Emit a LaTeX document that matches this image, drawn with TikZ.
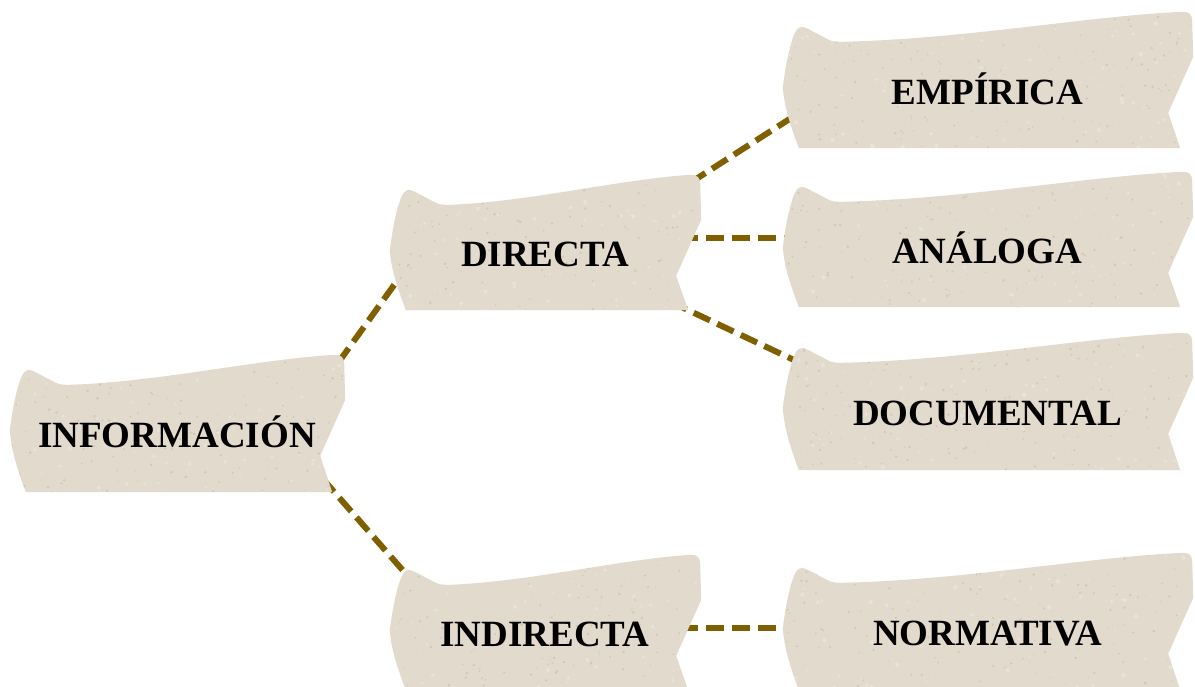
\documentclass[tikz,border=0pt]{standalone}
\usepackage{fontspec}
\setmainfont{Liberation Serif}
\usetikzlibrary{calc}
\pgfdeclarelayer{links}
\pgfdeclarelayer{paper}
\pgfsetlayers{links,paper,main}
\definecolor{parchment}{RGB}{226,218,204}
\definecolor{speckdark}{RGB}{188,176,158}
\definecolor{specklight}{RGB}{240,235,226}
\definecolor{linkbrown}{RGB}{127,95,0}
\tikzset{
  bannerbox/.style={rectangle, inner sep=0pt, text height=48.5pt, text depth=0pt,
    font=\bfseries\fontsize{37}{40}\selectfont, text=black},
  link/.style={draw=linkbrown, line width=6pt, dash pattern=on 18pt off 8pt},
}
% outline of a torn-paper banner around a named node
\newcommand\bannerpath[1]{($(#1.north west)+(0,76)$)
    .. controls ($(#1.north west)+(3,50)$) and ($(#1.north west)+(9,24)$) .. ($(#1.north west)+(14,18)$)
    .. controls ($(#1.north west)+(17,14)$) and ($(#1.north west)+(21,15)$) .. ($(#1.north west)+(25,17)$)
    -- ($(#1.north west)+(46,28)$)
    .. controls ($(#1.north west)+(50,30)$) and ($(#1.north west)+(54,30)$) .. ($(#1.north west)+(60,30)$)
    .. controls ($(#1.north west)!0.45!(#1.north east)+(0,27)$) and ($(#1.north west)!0.75!(#1.north east)+(0,4)$) .. ($(#1.north east)+(-9,0)$)
    .. controls ($(#1.north east)+(-3,0)$) and ($(#1.north east)+(0,3)$) .. ($(#1.north east)+(0,9)$)
    -- ($(#1.north east)+(1,45)$)
    -- ($(#1.north east)+(-24,101)$)
    -- ($(#1.south east)+(-12,0)$)
    -- ($(#1.south west)+(16,0)$)
    .. controls ($(#1.south west)+(8,-22)$) and ($(#1.north west)+(2,98)$) .. ($(#1.north west)+(0,76)$)
    -- cycle}
% paper fill with a faint mottled grain, behind the text
\newcommand\bannerpaper[1]{%
  \begin{pgfonlayer}{paper}
  \fill[parchment] \bannerpath{#1};
  \begin{scope}
    \clip \bannerpath{#1};
    \foreach \k in {1,...,170}{
      \fill[speckdark, opacity=0.45] ($(#1.south west)+({rnd*420},{-rnd*140})$) circle[radius={0.5+rnd*0.9}];
    }
    \foreach \k in {1,...,90}{
      \fill[specklight, opacity=0.5] ($(#1.south west)+({rnd*420},{-rnd*140})$) circle[radius={0.8+rnd*1.4}];
    }
  \end{scope}
  \end{pgfonlayer}}
\begin{document}
\begin{tikzpicture}[x=1pt,y=-1pt]
\pgfmathsetseed{11}
\useasboundingbox (0,0) rectangle (1195,687);

\node[bannerbox, minimum width=334pt, minimum height=137pt] (info) at (177,423.5) {INFORMACIÓN};
\node[bannerbox, minimum width=310pt, minimum height=135pt] (directa) at (545,242.5) {DIRECTA};
\node[bannerbox, minimum width=310pt, minimum height=135pt] (indirecta) at (545,622.5) {INDIRECTA};
\node[bannerbox, minimum width=409pt, minimum height=136pt] (empirica) at (987.5,80) {EMPÍRICA};
\node[bannerbox, minimum width=409pt, minimum height=135pt] (analoga) at (987.5,239.5) {ANÁLOGA};
\node[bannerbox, minimum width=409pt, minimum height=137pt] (documental) at (987.5,401.5) {DOCUMENTAL};
\node[bannerbox, minimum width=409pt, minimum height=137pt] (normativa) at (987.5,621.5) {NORMATIVA};

\bannerpaper{info}
\bannerpaper{directa}
\bannerpaper{indirecta}
\bannerpaper{empirica}
\bannerpaper{analoga}
\bannerpaper{documental}
\bannerpaper{normativa}

\begin{pgfonlayer}{links}
\draw[link] ($(info.north east)+(-6,8)$) -- ($(directa.west)+(14,29)$);
\draw[link] ($(info.south east)+(-22,-14)$) -- ($(indirecta.north west)+(30,35)$);
\draw[link] ($(directa.north east)+(-10,8)$) -- ($(empirica.west)+(27,26)$);
\draw[link] ($(analoga.west -| directa.east)+(-20,-1.5)$) -- ($(analoga.west)+(12,-1.5)$);
\draw[link] ($(directa.south east)+(-30,-8.5)$) -- ($(documental.north west)+(32,37)$);
\draw[link] ($(indirecta.east)+(-20,5.5)$) -- ($(normativa.west)+(12,6.5)$);
\end{pgfonlayer}
\end{tikzpicture}
\end{document}
